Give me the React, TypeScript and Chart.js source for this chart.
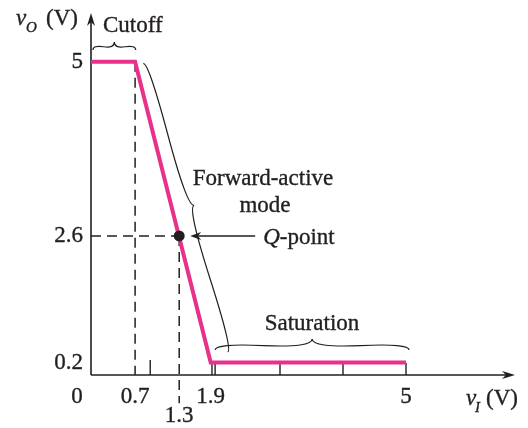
import React, { useEffect, useRef } from 'react';
import { Chart, registerables } from 'chart.js';

Chart.register(...registerables);

// ---- data (volts) ----
const transferVI = [0, 0.7, 1.9, 5];
const transferVO = [5, 5, 0.2, 0.2];
// Q-point as drawn in the figure (labelled 1.3 V / 2.6 V)
const qPointVI = 1.4;
const qPointVO = 2.22;
const cutInVI = 0.7;
const highVO = 5;
const yTickValues = [5, qPointVO, 0.2];
const yTickLabels = ['5', '2.6', '0.2'];
const xTickValues = [0.7, 1.9, 5];
const xTickLabels = ['0.7', '1.9', '5'];
const qTickLabel = '1.3';
const xMinorTicks = [0.94, 1.92, 1.97, 3, 4, 5];
const cutoffBrace = [{ x: 0.03, y: 5.19 }, { x: 0.71, y: 5.19 }];
const forwardBrace = [{ x: 0.83, y: 4.97 }, { x: 2.17, y: 0.37 }];
const saturationBrace = [{ x: 1.97, y: 0.4 }, { x: 5.05, y: 0.4 }];

const SERIF = '"Liberation Serif", "Times New Roman", serif';
const INK = '#231f20';
const PINK = '#e8318a';
const FS = 23;

function drawBrace(ctx: CanvasRenderingContext2D, x1: number, y1: number, x2: number, y2: number, w: number, q = 0.6) {
  const L = Math.hypot(x2 - x1, y2 - y1);
  const ux = (x2 - x1) / L, uy = (y2 - y1) / L;
  const nx = uy, ny = -ux;
  const half = (sx: number, sy: number, dx: number, dy: number) => {
    const c1x = sx + nx * q * w, c1y = sy + ny * q * w;
    const ax = sx + dx * L / 4 + nx * (1 - q) * w, ay = sy + dy * L / 4 + ny * (1 - q) * w;
    const tx = sx + dx * L / 2 + nx * w, ty = sy + dy * L / 2 + ny * w;
    ctx.moveTo(sx, sy);
    ctx.quadraticCurveTo(c1x, c1y, ax, ay);
    ctx.quadraticCurveTo(2 * ax - c1x, 2 * ay - c1y, tx, ty);
  };
  ctx.beginPath();
  half(x1, y1, ux, uy);
  half(x2, y2, -ux, -uy);
  ctx.stroke();
}

function arrowHead(ctx: CanvasRenderingContext2D, tx: number, ty: number, dx: number, dy: number, len = 13, hw = 4) {
  const nx = -dy, ny = dx;
  ctx.beginPath();
  ctx.moveTo(tx, ty);
  ctx.lineTo(tx - dx * len + nx * hw, ty - dy * len + ny * hw);
  ctx.lineTo(tx - dx * len * 0.7, ty - dy * len * 0.7);
  ctx.lineTo(tx - dx * len - nx * hw, ty - dy * len - ny * hw);
  ctx.closePath();
  ctx.fill();
}

function text(ctx: CanvasRenderingContext2D, s: string, x: number, y: number) {
  ctx.fillText(s, x, y);
  ctx.strokeText(s, x, y);
}

const figurePlugin = {
  id: 'figure',
  beforeDatasetsDraw(chart: any) {
    const { ctx, chartArea: a, scales } = chart;
    const xs = scales.x, ys = scales.y;
    const x0 = xs.getPixelForValue(0), y0 = ys.getPixelForValue(0);
    ctx.save();
    ctx.strokeStyle = INK;
    ctx.fillStyle = INK;
    ctx.lineWidth = 1.6;
    ctx.beginPath();
    ctx.moveTo(x0, y0);
    ctx.lineTo(a.right - 4, y0);
    ctx.moveTo(x0, y0);
    ctx.lineTo(x0, a.top + 4);
    ctx.stroke();
    arrowHead(ctx, a.right, y0, 1, 0);
    arrowHead(ctx, x0, a.top, 0, -1);
    ctx.lineWidth = 1.4;
    xMinorTicks.forEach((v, i) => {
      const px = xs.getPixelForValue(v);
      ctx.beginPath();
      ctx.moveTo(px, y0);
      ctx.lineTo(px, y0 - (i === 0 ? 15 : 12));
      ctx.stroke();
    });
    ctx.restore();
  },
  afterDatasetsDraw(chart: any) {
    const { ctx, scales } = chart;
    const xs = scales.x, ys = scales.y;
    const x0 = xs.getPixelForValue(0), y0 = ys.getPixelForValue(0);
    ctx.save();
    ctx.fillStyle = INK;
    ctx.strokeStyle = INK;
    ctx.lineWidth = 0.35;

    // y tick labels
    ctx.font = `${FS}px ${SERIF}`;
    ctx.textAlign = 'right';
    ctx.textBaseline = 'middle';
    yTickValues.forEach((v, i) => text(ctx, yTickLabels[i], x0 - 8, ys.getPixelForValue(v)));

    // x tick labels
    ctx.textAlign = 'center';
    ctx.textBaseline = 'alphabetic';
    text(ctx, '0', x0 - 14, y0 + 28);
    xTickValues.forEach((v, i) => text(ctx, xTickLabels[i], xs.getPixelForValue(v), y0 + 28));
    text(ctx, qTickLabel, xs.getPixelForValue(qPointVI), y0 + 47);

    // axis titles
    ctx.textAlign = 'left';
    ctx.font = `italic ${FS}px ${SERIF}`;
    text(ctx, 'v', 16, 25);
    ctx.font = `italic 15px ${SERIF}`;
    text(ctx, 'O', 26, 32);
    ctx.font = `${FS}px ${SERIF}`;
    text(ctx, '(V)', 46, 25);

    ctx.font = `italic ${FS}px ${SERIF}`;
    text(ctx, 'v', 466, 405);
    ctx.font = `italic 15px ${SERIF}`;
    text(ctx, 'I', 475, 412);
    ctx.font = `${FS}px ${SERIF}`;
    text(ctx, '(V)', 486, 405);

    // region labels
    text(ctx, 'Cutoff', 103, 32);
    ctx.textAlign = 'center';
    text(ctx, 'Forward-active', 263, 185);
    text(ctx, 'mode', 265, 212);
    text(ctx, 'Saturation', 312, 330);

    // braces
    ctx.lineWidth = 1.2;
    const bp = (p: { x: number; y: number }) => [xs.getPixelForValue(p.x), ys.getPixelForValue(p.y)];
    const [c1x, c1y] = bp(cutoffBrace[0]);
    const [c2x, c2y] = bp(cutoffBrace[1]);
    drawBrace(ctx, c1x, c1y, c2x, c2y, 8);
    const [f1x, f1y] = bp(forwardBrace[0]);
    const [f2x, f2y] = bp(forwardBrace[1]);
    drawBrace(ctx, f1x, f1y, f2x, f2y, 9);
    const [s1x, s1y] = bp(saturationBrace[0]);
    const [s2x, s2y] = bp(saturationBrace[1]);
    drawBrace(ctx, s1x, s1y, s2x, s2y, 11);

    // Q-point arrow and label
    const qx = xs.getPixelForValue(qPointVI), qy = ys.getPixelForValue(qPointVO);
    ctx.lineWidth = 1.5;
    ctx.beginPath();
    ctx.moveTo(qx + 18, qy);
    ctx.lineTo(qx + 76, qy);
    ctx.stroke();
    arrowHead(ctx, qx + 11, qy, -1, 0, 11, 4);
    ctx.lineWidth = 0.35;
    ctx.textAlign = 'left';
    ctx.font = `italic ${FS}px ${SERIF}`;
    text(ctx, 'Q', qx + 84, qy + 8);
    const qw = ctx.measureText('Q').width;
    ctx.font = `${FS}px ${SERIF}`;
    text(ctx, '-point', qx + 84 + qw, qy + 8);
    ctx.restore();
  },
};

export default function App() {
  const ref = useRef<HTMLCanvasElement | null>(null);
  useEffect(() => {
    if (!ref.current) return;
    const dash = [10, 6];
    const chart = new Chart(ref.current, {
      type: 'line',
      data: {
        datasets: [
          {
            label: 'Q-point',
            data: [{ x: qPointVI, y: qPointVO }],
            showLine: false,
            pointRadius: 5.5,
            pointBackgroundColor: INK,
            pointBorderWidth: 0,
            order: 0,
            clip: false,
          } as any,
          {
            label: 'vO',
            data: transferVI.map((x, i) => ({ x, y: transferVO[i] })),
            borderColor: PINK,
            borderWidth: 4,
            pointRadius: 0,
            tension: 0,
            order: 1,
            clip: false,
          },
          {
            label: 'Q horizontal',
            data: [{ x: 0, y: qPointVO }, { x: qPointVI, y: qPointVO }],
            borderColor: INK,
            borderWidth: 1.5,
            borderDash: dash,
            pointRadius: 0,
            order: 2,
            clip: false,
          },
          {
            label: 'Q vertical',
            data: [{ x: qPointVI, y: qPointVO }, { x: qPointVI, y: -0.45 }],
            borderColor: INK,
            borderWidth: 1.5,
            borderDash: dash,
            pointRadius: 0,
            order: 2,
            clip: false,
          },
          {
            label: 'cut-in',
            data: [{ x: cutInVI, y: highVO }, { x: cutInVI, y: 0 }],
            borderColor: INK,
            borderWidth: 1.5,
            borderDash: dash,
            pointRadius: 0,
            order: 2,
            clip: false,
          },
        ],
      },
      options: {
        responsive: false,
        animation: false,
        layout: { padding: { left: 91, right: 13, top: 13, bottom: 53 } },
        scales: {
          x: { type: 'linear', min: 0, max: 6.73, display: false },
          y: { type: 'linear', min: 0, max: 5.78, display: false },
        },
        plugins: { legend: { display: false }, tooltip: { enabled: false } },
        events: [],
      },
      plugins: [figurePlugin],
    });
    return () => chart.destroy();
  }, []);
  return (
    <div style={{ position: 'absolute', left: 0, top: 0, width: 528, height: 428, background: '#fff' }}>
      <canvas ref={ref} width={528} height={428} />
    </div>
  );
}
